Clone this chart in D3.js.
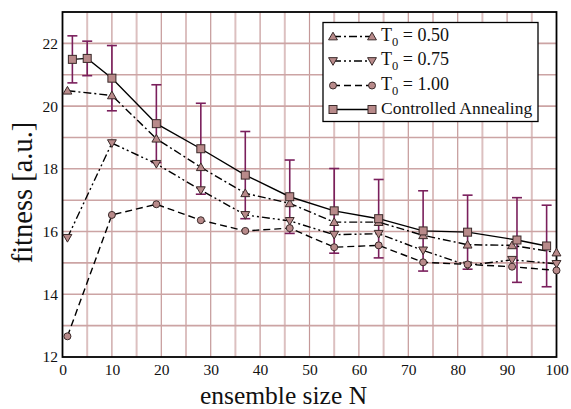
<!DOCTYPE html>
<html><head><meta charset="utf-8">
<script src="https://cdn.jsdelivr.net/npm/d3@7"></script>
<style>body{margin:0;background:#fff}svg{display:block}</style>
</head><body>
<svg id="c" width="571" height="409"></svg>
<script>
// ---- data ----
const xT = [1, 10, 19, 28, 37, 46, 55, 64, 73, 82, 91, 100];
const yT050 = [20.49, 20.34, 18.96, 18.05, 17.22, 16.9, 16.3, 16.3, 15.88, 15.58, 15.56, 15.33];
const yT075 = [15.8, 18.82, 18.16, 17.32, 16.53, 16.34, 15.9, 15.93, 15.4, 14.92, 15.1, 14.97];
const yT100 = [12.66, 16.53, 16.87, 16.36, 16.02, 16.11, 15.5, 15.56, 15.02, 14.95, 14.88, 14.76];
const xCA = [2, 5, 10, 19, 28, 37, 46, 55, 64, 73, 82, 92, 98];
const yCA = [21.49, 21.52, 20.89, 19.44, 18.64, 17.8, 17.11, 16.66, 16.41, 16.02, 15.98, 15.73, 15.54];
const errCA = [0.75, 0.55, 1.04, 1.24, 1.45, 1.39, 1.17, 1.35, 1.25, 1.28, 1.18, 1.35, 1.3];
const xTicks = [0, 10, 20, 30, 40, 50, 60, 70, 80, 90, 100];
const yTicks = [12, 14, 16, 18, 20, 22];
const legendLabels = ["0.50", "0.75", "1.00", "Controlled Annealing"];

const FONT = "Liberation Serif";
const svg = d3.select("#c");
const L = 62.5, R = 556.5, T = 12, B = 357;
const x = d3.scaleLinear().domain([0, 100]).range([L, R]);
const y = d3.scaleLinear().domain([12, 23]).range([B, T]);

// grid
const g = svg.append("g");
d3.range(5, 100, 5).forEach(v => {
  const major = v % 10 === 0;
  g.append("line").attr("x1", x(v)).attr("x2", x(v)).attr("y1", T).attr("y2", B)
    .attr("stroke", major ? "#c49898" : "#dcc0c0").attr("stroke-width", major ? 1.2 : 2);
});
d3.range(13, 23, 1).forEach(v => {
  g.append("line").attr("x1", L).attr("x2", R).attr("y1", y(v)).attr("y2", y(v))
    .attr("stroke", "#cca4a4").attr("stroke-width", 1.6);
});

// axes
const xAxis = d3.axisBottom(x).tickValues(xTicks).tickSize(0).tickPadding(7);
const gx = svg.append("g").attr("transform", `translate(0,${B})`).call(xAxis);
gx.select(".domain").remove();
gx.selectAll("text").style("font-size", "15.5px").style("font-family", FONT).attr("fill", "#111");
const yAxis = d3.axisLeft(y).tickValues(yTicks).tickSize(0).tickPadding(4.5);
const gy = svg.append("g").attr("transform", `translate(${L},0)`).call(yAxis);
gy.select(".domain").remove();
gy.selectAll("text").style("font-size", "15.5px").style("font-family", FONT).attr("fill", "#111");

// border
svg.append("rect").attr("x", L).attr("y", T).attr("width", R - L).attr("height", B - T)
  .attr("fill", "none").attr("stroke", "#000").attr("stroke-width", 1.8);

// titles
svg.append("text").attr("x", 283.5).attr("y", 404).attr("text-anchor", "middle")
  .style("font-family", FONT).style("font-size", "25.5px").attr("fill", "#111").text("ensemble size N");
svg.append("text").attr("transform", `translate(32,192.5) rotate(-90)`).attr("text-anchor", "middle")
  .style("font-family", FONT).style("font-size", "28.5px").attr("fill", "#111").text("fitness [a.u.]");

const markerFill = "#b88a8a";
const markerStroke = "#3a2a2a";
function marker(sel, type, cx, cy) {
  if (type === "up") sel.append("path").attr("d", d3.symbol(d3.symbolTriangle, 34)())
    .attr("transform", `translate(${cx},${cy + 0.8})`);
  else if (type === "down") sel.append("path").attr("d", d3.symbol(d3.symbolTriangle, 34)())
    .attr("transform", `translate(${cx},${cy - 0.8}) rotate(180)`);
  else if (type === "circle") sel.append("circle").attr("cx", cx).attr("cy", cy).attr("r", 3.5);
  else sel.append("rect").attr("x", cx - 4).attr("y", cy - 4).attr("width", 8).attr("height", 8);
}

const series = [
  {xs: xT, ys: yT050, dash: "8,3,2,3", m: "up"},
  {xs: xT, ys: yT075, dash: "8,3,2,3,2,3", m: "down"},
  {xs: xT, ys: yT100, dash: "7,4", m: "circle"},
  {xs: xCA, ys: yCA, dash: null, m: "square"}
];
const line = d3.line().x(d => x(d[0])).y(d => y(d[1]));

// error bars (Controlled Annealing)
const eb = svg.append("g").attr("stroke", "#7a1f5c").attr("stroke-width", 1.6);
xCA.forEach((v, i) => {
  const cx = x(v), y1 = y(yCA[i] + errCA[i]), y2 = y(yCA[i] - errCA[i]);
  eb.append("line").attr("x1", cx).attr("x2", cx).attr("y1", y1).attr("y2", y2);
  eb.append("line").attr("x1", cx - 5).attr("x2", cx + 5).attr("y1", y1).attr("y2", y1);
  eb.append("line").attr("x1", cx - 5).attr("x2", cx + 5).attr("y1", y2).attr("y2", y2);
});

series.forEach(s => {
  const pts = s.xs.map((v, i) => [v, s.ys[i]]);
  svg.append("path").datum(pts).attr("d", line).attr("fill", "none").attr("stroke", "#000")
    .attr("stroke-width", 1.4).attr("stroke-dasharray", s.dash);
  const mg = svg.append("g").attr("fill", markerFill).attr("stroke", markerStroke).attr("stroke-width", 1);
  pts.forEach(p => marker(mg, s.m, x(p[0]), y(p[1])));
});

// legend
const lg = svg.append("g");
lg.append("rect").attr("x", 323).attr("y", 22.5).attr("width", 215).attr("height", 99)
  .attr("fill", "#fff").attr("stroke", "#000").attr("stroke-width", 1.3);
const rows = [36.5, 61, 85.5, 109.5];
series.forEach((s, i) => {
  const ry = rows[i];
  lg.append("line").attr("x1", 333).attr("x2", 372).attr("y1", ry).attr("y2", ry)
    .attr("stroke", "#000").attr("stroke-width", 1.4).attr("stroke-dasharray", s.dash);
  const mg = lg.append("g").attr("fill", markerFill).attr("stroke", markerStroke).attr("stroke-width", 1);
  marker(mg, s.m, 333, ry);
  marker(mg, s.m, 372, ry);
  const t = lg.append("text").attr("x", 381).attr("y", ry + 4)
    .style("font-family", FONT).style("font-size", i < 3 ? "18px" : "17.5px").attr("fill", "#111");
  if (i < 3) {
    t.append("tspan").text("T");
    t.append("tspan").attr("dy", 5).style("font-size", "12.5px").text("0");
    t.append("tspan").attr("dy", -5).text(" = " + legendLabels[i]);
  } else t.text(legendLabels[i]);
});
</script>
</body></html>
